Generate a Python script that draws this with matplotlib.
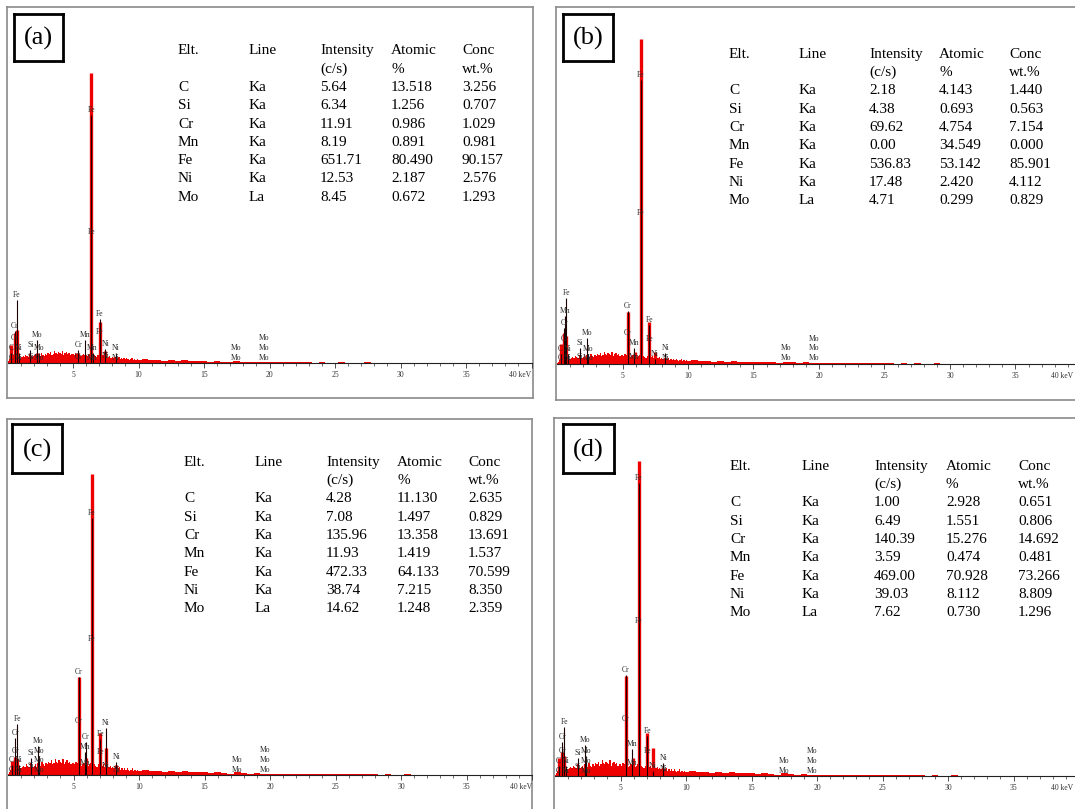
import numpy as np
import matplotlib
matplotlib.use('Agg')
import matplotlib.pyplot as plt
import matplotlib.transforms as mtransforms

plt.rcParams['font.family'] = ['Liberation Serif', 'DejaVu Serif']

W, H = 1075, 809

############## Data ####################

panel_tags = ['(a)', '(b)', '(c)', '(d)']
elements = ['C', 'Si', 'Cr', 'Mn', 'Fe', 'Ni', 'Mo']
xray_lines = ['Ka', 'Ka', 'Ka', 'Ka', 'Ka', 'Ka', 'La']
header_top = ['Elt.', 'Line', 'Intensity', 'Atomic', 'Conc']
header_bottom = ['', '', '(c/s)', '%', 'wt.%']

intensity = [
    [5.64, 6.34, 11.91, 8.19, 651.71, 12.53, 8.45],
    [2.18, 4.38, 69.62, 0.00, 536.83, 17.48, 4.71],
    [4.28, 7.08, 135.96, 11.93, 472.33, 38.74, 14.62],
    [1.00, 6.49, 140.39, 3.59, 469.00, 39.03, 7.62],
]
atomic = [
    [13.518, 1.256, 0.986, 0.891, 80.490, 2.187, 0.672],
    [4.143, 0.693, 4.754, 34.549, 53.142, 2.420, 0.299],
    [11.130, 1.497, 13.358, 1.419, 64.133, 7.215, 1.248],
    [2.928, 1.551, 15.276, 0.474, 70.928, 8.112, 0.730],
]
conc = [
    [3.256, 0.707, 1.029, 0.981, 90.157, 2.576, 1.293],
    [1.440, 0.563, 7.154, 0.000, 85.901, 4.112, 0.829],
    [2.635, 0.829, 13.691, 1.537, 70.599, 8.350, 2.359],
    [0.651, 0.806, 14.692, 0.481, 73.266, 8.809, 1.296],
]

# peak energies (keV) and heights (counts, arbitrary)
peak_kev = [0.28, 0.55, 0.70, 1.74, 2.29, 5.41, 5.95, 6.40, 7.06, 7.48, 8.26]
peak_counts = [
    [18, 30, 33, 8, 10, 10, 6, 290, 41, 12, 5],
    [20, 31, 28, 6, 7, 52, 12, 325, 42, 12, 6],
    [14, 18, 16, 8, 12, 98, 17, 301, 42, 27, 10],
    [18, 24, 20, 8, 12, 100, 18, 315, 43, 28, 8],
]

# background continuum, 0-9.9 keV every 0.1 keV, then 10-39.5 keV every 0.5 keV
bg_fine = [1, 2, 4, 6, 7, 8, 9, 8, 7, 6,
           5, 6, 7, 6, 8, 7, 6, 9, 7, 6,
           7, 8, 6, 9, 8, 7, 10, 8, 7, 9,
           8, 10, 9, 11, 8, 9, 12, 10, 9, 11,
           10, 9, 12, 8, 10, 11, 9, 10, 8, 9,
           9, 8, 10, 9, 8, 9, 7, 8, 9, 8,
           8, 7, 8, 9, 8, 7, 8, 7, 6, 8,
           7, 6, 7, 8, 6, 7, 5, 6, 7, 5,
           6, 5, 6, 4, 5, 6, 4, 5, 4, 5,
           4, 5, 4, 3, 4, 5, 3, 4, 3, 4]
bg_coarse = [3, 4, 3, 3, 2, 3, 2, 3, 2, 2,
             2, 1.5, 2, 1.5, 1, 2, 1.5, 1, 1.5, 1,
             1, 1, 0.8, 1, 0.6, 0.8, 0.6, 0.5, 0.8, 0.5,
             0.5, 0.6, 0.4, 0.5, 0.4, 0.6, 0.4, 0.3, 0.5, 0.3,
             0.3, 0.4, 0.3, 0.3, 0.2, 0.3, 0.2, 0.3, 0.2, 0.2,
             0.2, 0.2, 0.2, 0.2, 0.1, 0.2, 0.1, 0.2, 0.1, 0.1]
bg_level = [1.0, 1.0, 1.35, 1.3]

# element markers: (symbol, keV, height)
labels_a = [('Fe', 6.40, 253), ('Fe', 6.40, 131), ('Fe', 0.70, 68), ('Cr', 0.57, 37), ('Cr', 0.57, 25),
            ('C', 0.28, 15), ('C', 0.28, 5), ('Ni', 0.85, 15), ('Ni', 0.85, 5), ('Mo', 2.29, 28),
            ('Si', 1.74, 18), ('Si', 1.74, 6), ('Mo', 2.40, 15), ('Mo', 2.40, 5), ('Cr', 5.41, 18),
            ('Cr', 5.41, 6), ('Mn', 5.90, 28), ('Mn', 6.49, 15), ('Mn', 6.49, 5), ('Fe', 7.06, 49),
            ('Fe', 7.06, 31), ('Ni', 7.48, 19), ('Ni', 7.48, 7), ('Ni', 8.26, 15), ('Ni', 8.26, 5),
            ('Mo', 17.48, 15), ('Mo', 17.48, 5), ('Mo', 19.61, 25), ('Mo', 19.61, 15), ('Mo', 19.61, 5)]
labels_b = [('Fe', 6.40, 289), ('Fe', 6.40, 151), ('Fe', 0.70, 71), ('Mn', 0.64, 53), ('Cr', 0.57, 41),
            ('Cr', 0.57, 25), ('C', 0.28, 15), ('C', 0.28, 6), ('Ni', 0.85, 15), ('Ni', 0.85, 6),
            ('Mo', 2.29, 31), ('Si', 1.74, 21), ('Si', 1.74, 7), ('Mo', 2.40, 15), ('Mo', 2.40, 6),
            ('Cr', 5.41, 58), ('Cr', 5.41, 31), ('Mn', 5.90, 21), ('Mn', 5.90, 7), ('Fe', 7.06, 44),
            ('Fe', 7.06, 25), ('Ni', 7.48, 10), ('Ni', 8.26, 16), ('Ni', 8.26, 6),
            ('Mo', 17.48, 16), ('Mo', 17.48, 6), ('Mo', 19.61, 25), ('Mo', 19.61, 16), ('Mo', 19.61, 6)]
labels_c = [('Fe', 6.40, 262), ('Fe', 6.40, 136), ('Fe', 0.70, 56), ('Cr', 0.57, 42), ('Cr', 0.57, 24),
            ('C', 0.28, 15), ('C', 0.28, 5), ('Ni', 0.85, 15), ('Ni', 0.85, 5), ('Mo', 2.29, 34),
            ('Si', 1.74, 22), ('Si', 1.74, 9), ('Mo', 2.40, 24), ('Mo', 2.40, 15), ('Mo', 2.40, 5),
            ('Cr', 5.41, 103), ('Cr', 5.41, 54), ('Cr', 5.95, 38), ('Mn', 5.90, 28), ('Mn', 5.90, 12),
            ('Fe', 7.06, 41), ('Fe', 7.06, 23), ('Ni', 7.48, 52), ('Ni', 7.48, 9), ('Ni', 8.26, 18),
            ('Ni', 8.26, 5), ('Mo', 17.48, 15), ('Mo', 17.48, 5), ('Mo', 19.61, 25), ('Mo', 19.61, 15),
            ('Mo', 19.61, 5)]
labels_d = [('Fe', 6.40, 298), ('Fe', 6.40, 155), ('Fe', 0.70, 54), ('Cr', 0.57, 39), ('Cr', 0.57, 25),
            ('C', 0.28, 15), ('C', 0.28, 5), ('Ni', 0.85, 15), ('Ni', 0.85, 5), ('Mo', 2.29, 36),
            ('Si', 1.74, 23), ('Si', 1.74, 9), ('Mo', 2.40, 25), ('Mo', 2.40, 15), ('Mo', 2.40, 5),
            ('Cr', 5.41, 106), ('Cr', 5.41, 57), ('Mn', 5.90, 32), ('Mn', 5.90, 13), ('Fe', 7.06, 45),
            ('Fe', 7.06, 25), ('Ni', 7.48, 10), ('Ni', 8.26, 18), ('Ni', 8.26, 7),
            ('Mo', 17.48, 15), ('Mo', 17.48, 5), ('Mo', 19.61, 25), ('Mo', 19.61, 15), ('Mo', 19.61, 5)]
peak_labels = [labels_a, labels_b, labels_c, labels_d]

############## Layout (pixels) ####################

frames = [(7, 7, 533, 398), (556, 7, 1090, 400), (7, 419, 532, 815), (554, 418, 1090, 815)]
zero_kev_x = [7.5, 557, 8, 555]
px_per_kev = 13.1
baselines = [363, 364, 775, 776]
tag_boxes = [(14, 14, 63, 61), (563, 14, 613, 61), (12, 424, 62, 473), (563, 424, 614, 473)]
table_cols = [[178, 249, 320, 391, 462], [729, 799, 869, 939, 1009],
              [184, 255, 326, 397, 468], [730, 802, 874, 946, 1018]]
table_first_row = [87.5, 91, 499, 503]
row_step = 18.3


def px_rect(x0, y0, x1, y1):
    return [x0 / W, 1 - y1 / H, (x1 - x0) / W, (y1 - y0) / H]


fig = plt.figure(figsize=(W / 100, H / 100), dpi=100)

energy = np.concatenate([np.arange(len(bg_fine)) * 0.1, 10 + np.arange(len(bg_coarse)) * 0.5])
background = np.array(bg_fine + bg_coarse, dtype=float)

for i in range(4):
    # outer frame
    ax_f = fig.add_axes(px_rect(*frames[i]))
    ax_f.set_xticks([])
    ax_f.set_yticks([])
    ax_f.patch.set_visible(False)
    for sp in ax_f.spines.values():
        sp.set_color('#8a8a8a')
        sp.set_linewidth(1.2)

    # panel tag
    ax_t = fig.add_axes(px_rect(*tag_boxes[i]))
    ax_t.set_xticks([])
    ax_t.set_yticks([])
    for sp in ax_t.spines.values():
        sp.set_color('black')
        sp.set_linewidth(2)
    ax_t.text(0.5, 0.47, panel_tags[i], ha='center', va='center', fontsize=19,
              transform=ax_t.transAxes)

    # table
    cols = table_cols[i]
    rows = [table_first_row[i] + (k - 2) * row_step for k in range(9)]
    for c in range(5):
        fig.text(cols[c] / W, 1 - rows[0] / H, header_top[c], fontsize=11, va='center')
        if header_bottom[c]:
            fig.text(cols[c] / W, 1 - rows[1] / H, header_bottom[c], fontsize=11, va='center')
    for r in range(len(elements)):
        cells = [elements[r], xray_lines[r], '%.2f' % intensity[i][r],
                 '%.3f' % atomic[i][r], '%.3f' % conc[i][r]]
        for c in range(5):
            fig.text(cols[c] / W, 1 - rows[r + 2] / H, cells[c], fontsize=11, va='center')

    # spectrum
    x0 = zero_kev_x[i]
    base = baselines[i]
    top = frames[i][1]
    ax = fig.add_axes(px_rect(x0, top, x0 + 40 * px_per_kev, base))
    ax.set_xlim(0, 40)
    ax.set_ylim(0, base - top)
    ax.patch.set_visible(False)
    for s in ['left', 'top', 'right']:
        ax.spines[s].set_visible(False)
    ax.spines['bottom'].set_linewidth(0.8)
    ax.spines['bottom'].set_color('#222222')
    ax.set_yticks([])
    ax.set_xticks(np.arange(5, 41, 5))
    ax.set_xticks(np.arange(1, 40, 1), minor=True)
    ax.set_xticklabels(['5', '10', '15', '20', '25', '30', '35', '40 keV'])
    ax.tick_params(axis='x', which='major', direction='out', length=3.5, width=0.6,
                   color='#333333', labelsize=5.5, pad=2, labelcolor='#333333')
    ax.tick_params(axis='x', which='minor', direction='out', length=2, width=0.5, color='#333333')
    last = ax.get_xticklabels()[-1]
    last.set_horizontalalignment('right')
    # keep the end label inside the picture when the axis runs past its edge
    overshoot = x0 + 40 * px_per_kev - (W - 2)
    if overshoot > 0:
        last.set_transform(last.get_transform() +
                           mtransforms.ScaledTranslation(-overshoot / 100, 0, fig.dpi_scale_trans))

    ax.fill_between(energy, 0, background * bg_level[i], step='mid', color='#ee0000', lw=0)
    ax.vlines(peak_kev, 0, peak_counts[i], color='#ee0000', lw=2.4)

    # black marker lines up to the top label of each low-energy line
    tops = {}
    for name, kev, h in peak_labels[i]:
        if kev < 10:
            tops[kev] = max(tops.get(kev, 0), h)
    mk = sorted(tops)
    ax.vlines(mk, 0, [tops[k] - 5 for k in mk], color='#1a0000', lw=0.8)

    for name, kev, h in peak_labels[i]:
        ax.text(kev, h, name, ha='center', va='center', fontsize=5.5, color='#2a2a2a')

fig.savefig('out.png', dpi=100)
